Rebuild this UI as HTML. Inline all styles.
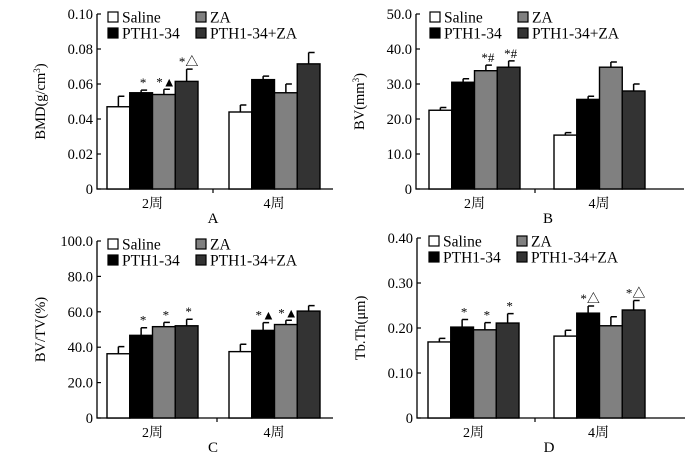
<!DOCTYPE html>
<html><head><meta charset="utf-8"><style>
html,body{margin:0;padding:0;background:#fff;width:700px;height:452px;overflow:hidden}
svg{display:block;font-family:"Liberation Serif","Noto Serif CJK SC",serif}
</style></head><body>
<svg id="chart" width="700" height="452" viewBox="0 0 700 452" xmlns="http://www.w3.org/2000/svg"></svg>
<script>
const groups = ["2周","4周"];
const seriesNames = ["Saline","PTH1-34","ZA","PTH1-34+ZA"];
const aVals = [[0.047,0.055,0.054,0.0615],[0.044,0.0625,0.055,0.0715]];
const aErr  = [[0.006,0.0015,0.003,0.007],[0.004,0.002,0.005,0.0065]];
const aMarks = [["","*","*▲","*△"],["","","",""]];
const aTicks = ["0","0.02","0.04","0.06","0.08","0.10"];
const bVals = [[22.5,30.5,33.8,34.8],[15.4,25.6,34.8,28.0]];
const bErr  = [[0.8,1.0,1.6,1.8],[0.7,0.9,1.5,2.0]];
const bMarks = [["","","*#","*#"],["","","",""]];
const bTicks = ["0","10.0","20.0","30.0","40.0","50.0"];
const cVals = [[36.3,46.7,51.6,52.1],[37.5,49.5,52.8,60.4]];
const cErr  = [[4.0,4.3,2.4,3.7],[4.2,4.4,2.4,3.1]];
const cMarks = [["","*","*","*"],["","*▲","*▲",""]];
const cTicks = ["0","20.0","40.0","60.0","80.0","100.0"];
const dVals = [[0.169,0.202,0.196,0.211],[0.182,0.233,0.205,0.240]];
const dErr  = [[0.008,0.017,0.016,0.021],[0.013,0.016,0.020,0.021]];
const dMarks = [["","*","*","*"],["","*△","","*△"]];
const dTicks = ["0","0.10","0.20","0.30","0.40"];

const fills = ["#ffffff","#000000","#808080","#333333"];
const NS="http://www.w3.org/2000/svg";
const svg=document.getElementById('chart');
function el(tag,attrs,parent,text){const e=document.createElementNS(NS,tag);for(const k in attrs)e.setAttribute(k,attrs[k]);if(text!==undefined)e.textContent=text;(parent||svg).appendChild(e);return e;}

function panel(p){
  const g=el('g',{});
  
  
  const ymax=parseFloat(p.ticks[p.ticks.length-1]);
  const y=v=>p.y1-(v/ymax)*(p.y1-p.y0);
  const bw=(p.g[0][1]-p.g[0][0])/4;
  const x=(gi,si)=>p.g[gi][0]+si*bw;
  const ax=el('path',{d:`M${p.x0},${p.y0}V${p.y1}H${p.x1}`,stroke:'#000','stroke-width':1.3,fill:'none'},g);
  
  
  el('line',{x1:p.mid,x2:p.mid,y1:p.y1,y2:p.y1+4,stroke:'#000','stroke-width':1.2},g);
  p.ticks.forEach((t,i)=>{
    const v=parseFloat(t), yy=y(v);
    el('line',{x1:p.x0,x2:p.x0+4,y1:yy,y2:yy,stroke:'#000','stroke-width':1.2},g);
    const tl=el('text',{x:p.x0-4,y:yy+5,'text-anchor':'end','font-size':14.5},g,t);
    
    
  });
  const yt=el('text',{x:0,y:0,transform:`translate(${p.x0-52},${(p.y0+p.y1)/2}) rotate(-90)`,'text-anchor':'middle','font-size':14.5},g);
  
  
  yt.innerHTML=p.title;
  p.vals.forEach((row,gi)=>row.forEach((v,si)=>{
    const bx=x(gi,si), by=y(v), ey=y(v+p.err[gi][si]);
    const ebar=el('path',{d:`M${bx+bw/2},${by}V${ey}M${bx+bw/2},${ey}H${bx+bw/2+6}`,stroke:'#000','stroke-width':1.5,fill:'none'},g);
    
    
    const r=el('rect',{x:bx,y:by,width:bw,height:p.y1-by,fill:fills[si],stroke:'#000','stroke-width':1.4},g);
    
    
    const m=p.marks[gi][si];
    if(m){const t=el('text',{x:bx+bw/2+2,y:ey-3,'text-anchor':'middle','font-size':13},g,m);
      
      }
  }));
  groups.forEach((gn,gi)=>{
    const t=el('text',{x:(p.g[gi][0]+p.g[gi][1])/2,y:p.y1+19,'text-anchor':'middle','font-size':14},g,gn);
    
    
  });
  const lt=el('text',{x:(p.x0+p.x1)/2-2,y:p.y1+34,'text-anchor':'middle','font-size':15},g,p.letter);
  
  
  const lx=[p.g[0][0]+1,p.g[0][0]+89], ly=[p.y0+3,p.y0+19];
  seriesNames.forEach((n,si)=>{
    const col=si===0||si===1?0:1, row=si===0||si===2?0:1;
    const lg=el('g',{},g);
    
    
    el('rect',{x:lx[col],y:ly[row]-5,width:10,height:10,fill:fills[si],stroke:'#000','stroke-width':1.2},lg);
    el('text',{x:lx[col]+14,y:ly[row]+5.5,'font-size':15.5},lg,n);
  });
}
panel({letter:'A',x0:97,x1:333,y0:14,y1:189,mid:213,g:[[107,198],[229,319]],vals:aVals,err:aErr,marks:aMarks,ticks:aTicks,title:'BMD(g/cm<tspan dy="-5" font-size="9">3</tspan><tspan dy="5">)</tspan>'});
panel({letter:'B',x0:416,x1:684,y0:14,y1:189,mid:535,g:[[429,520],[554,644]],vals:bVals,err:bErr,marks:bMarks,ticks:bTicks,title:'BV(mm<tspan dy="-5" font-size="9">3</tspan><tspan dy="5">)</tspan>'});
panel({letter:'C',x0:97,x1:333,y0:241,y1:418,mid:217,g:[[107,198],[229,319]],vals:cVals,err:cErr,marks:cMarks,ticks:cTicks,title:'BV/TV(%)'});
panel({letter:'D',x0:417,x1:685,y0:238,y1:418,mid:535,g:[[428,519],[554,643]],vals:dVals,err:dErr,marks:dMarks,ticks:dTicks,title:'Tb.Th(μm)'});
</script>
</body></html>
